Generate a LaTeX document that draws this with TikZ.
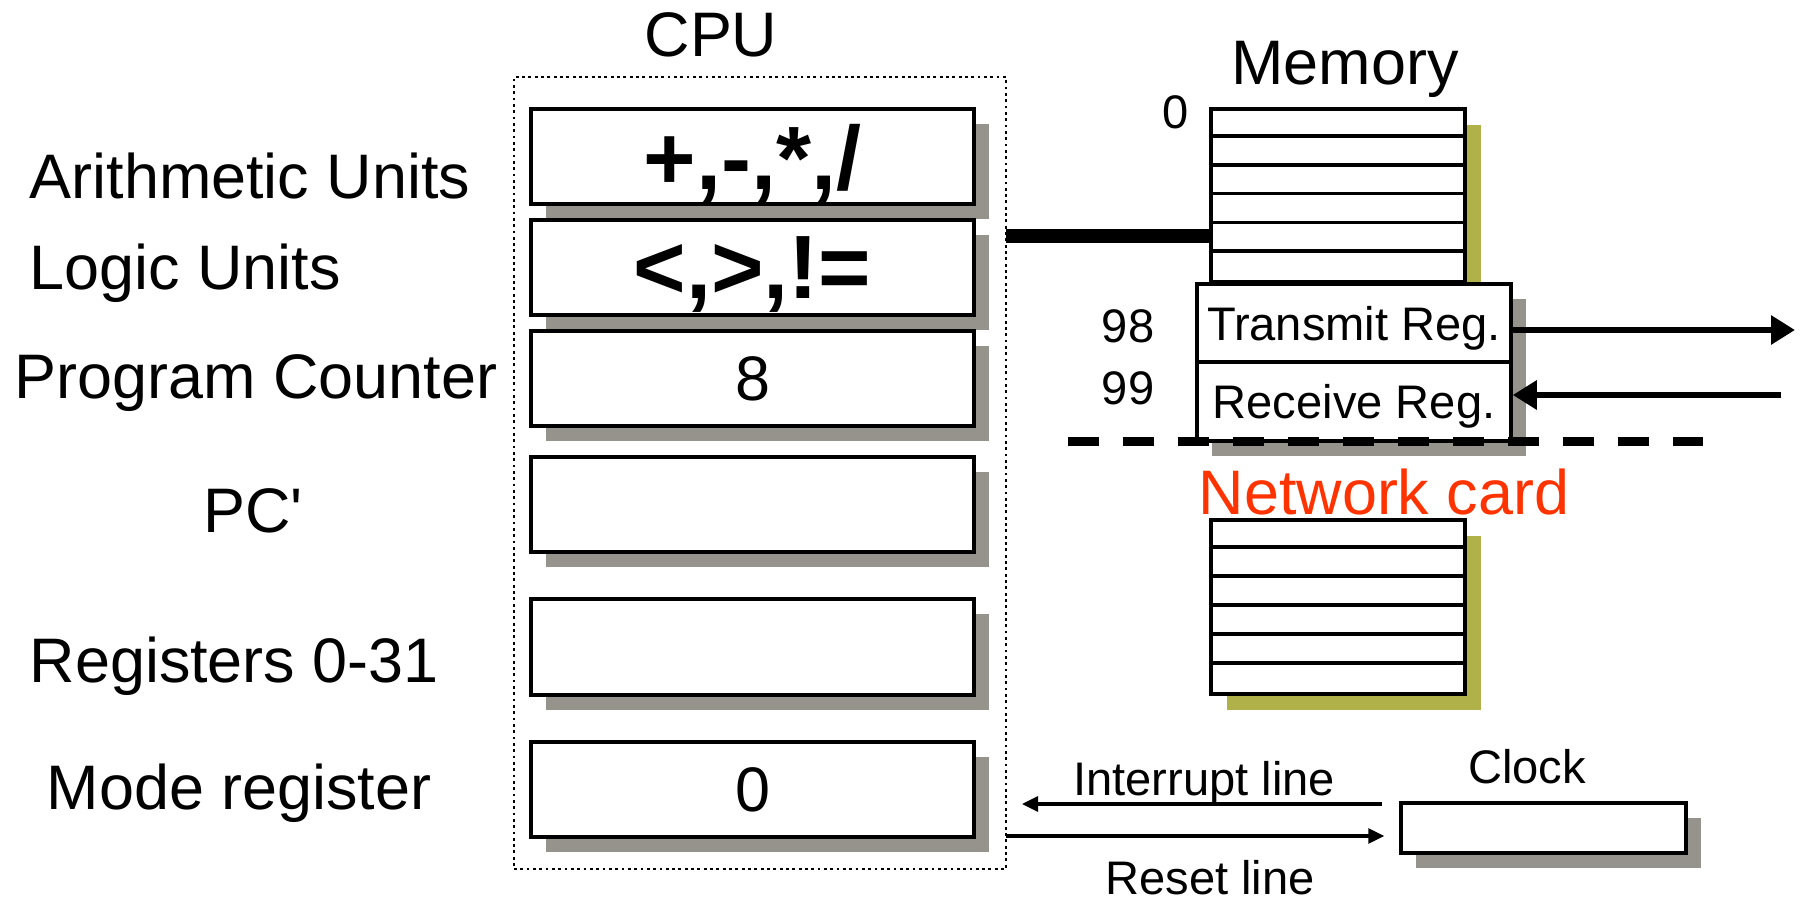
\documentclass[tikz,border=0pt]{standalone}
\usepackage{fontspec}
\setmainfont{Liberation Sans}
\usetikzlibrary{shadows}
\usetikzlibrary{arrows.meta}
\definecolor{shadowgray}{RGB}{150,146,140}
\definecolor{memolive}{RGB}{176,177,72}
\definecolor{nicred}{RGB}{255,51,0}

\begin{document}
\begin{tikzpicture}[inner sep=0pt,
  big/.style={font=\fontsize{17.9}{20}\selectfont},
  small/.style={font=\fontsize{13.4}{15}\selectfont},
  op/.style={font=\fontsize{25.6}{28}\selectfont\bfseries, text depth=0pt},
  reg/.style={draw, line width=1pt, fill=white, minimum width=4.43cm, minimum height=0.95cm,
    drop shadow={shadow xshift=0.15cm, shadow yshift=-0.15cm, fill=shadowgray, opacity=1}},
  stack/.style={draw, line width=1pt, fill=white, minimum width=2.54cm,
    drop shadow={shadow xshift=0.16cm, shadow yshift=-0.16cm, fill=memolive, opacity=1}},
  nicreg/.style={draw, line width=1pt, fill=white, minimum width=3.14cm, text depth=0pt,
    drop shadow={shadow xshift=0.15cm, shadow yshift=-0.15cm, fill=shadowgray, opacity=1}},
  sig/.style={line width=0.9pt, -{Triangle[length=0.16cm, width=0.15cm]}},
  wire/.style={line width=1.7pt, -{Triangle[length=0.24cm, width=0.28cm]}}]
\useasboundingbox (0,0) rectangle (18.04,-9.00);

% CPU
\node[draw, densely dotted, line width=0.8pt, minimum width=4.92cm, minimum height=7.92cm] (cpu) at (7.60,-4.73) {};
\node[big] (cputitle) at (7.11,-0.35) {CPU};

\node[reg, op] (alu) at (7.525,-1.565) {+,-,*,/};
\node[reg, op] (logic) at (7.525,-2.675) {<,>,!=};
\node[reg, big] (pc) at (7.525,-3.785) {8};
\node[reg] (pcp) at (7.525,-5.045) {};
\node[reg, minimum height=0.96cm] (regs) at (7.525,-6.47) {};
\node[reg, big] (mode) at (7.525,-7.895) {0};

\node[big, anchor=west] (alulbl) at (0.29,-1.76) {Arithmetic Units};
\node[big, anchor=west] (logiclbl) at (0.29,-2.73) {Logic Units};
\node[big, anchor=west] (pclbl) at (0.14,-3.83) {Program Counter};
\node[big] (pcplbl) at (2.53,-5.11) {PC\textquotesingle};
\node[big, anchor=west] (regslbl) at (0.29,-6.66) {Registers 0-31};
\node[big, anchor=west] (modelbl) at (0.46,-7.93) {Mode register};

% memory
\node[big] (memtitle) at (13.45,-0.69) {Memory};
\node[stack, minimum height=1.73cm] (mem) at (13.38,-1.955) {};
\foreach \i in {1,...,5}
  \draw[line width=1pt] ([yshift=-\i*0.288cm]mem.north west) -- ([yshift=-\i*0.288cm]mem.north east);
\node[small] (addr0) at (11.76,-1.12) {0};

\coordinate (bus) at (10.06,-2.36);
\draw[line width=4pt] (bus) -- (bus -| mem.west);

% network card
\node[nicreg, minimum height=0.78cm, small] (txreg) at (13.54,-3.23) {Transmit Reg.};
\node[nicreg, minimum height=0.79cm, small] (rxreg) at (13.54,-4.015) {Receive Reg.};
\node[small] (addr98) at (11.28,-3.26) {98};
\node[small] (addr99) at (11.28,-3.88) {99};

\coordinate (txout) at (17.95,-3.30);
\coordinate (rxin) at (17.81,-3.95);
\draw[wire] (txreg.east |- txout) -- (txout);
\draw[wire] (rxin) -- (rxin -| rxreg.east);

\draw[line width=0.09cm, dash pattern=on 0.31cm off 0.24cm] (10.68,-4.41) -- (17.03,-4.41);
\node[big, text=nicred] (niclbl) at (13.84,-4.92) {Network card};

\node[stack, minimum height=1.74cm] (nicmem) at (13.38,-6.07) {};
\foreach \i in {1,...,5}
  \draw[line width=1pt] ([yshift=-\i*0.29cm]nicmem.north west) -- ([yshift=-\i*0.29cm]nicmem.north east);

% clock
\node[draw, line width=1pt, fill=white, minimum width=2.85cm, minimum height=0.50cm,
  drop shadow={shadow xshift=0.15cm, shadow yshift=-0.15cm, fill=shadowgray, opacity=1}] (clock) at (15.435,-8.28) {};
\node[small] (clocklbl) at (15.27,-7.67) {Clock};

\coordinate (irqend) at (10.22,-8.04);
\coordinate (rststart) at (10.06,-8.36);
\draw[sig, shorten <=0.17cm] (clock.north west |- irqend) -- (irqend);
\draw[sig, shorten >=0.15cm] (rststart) -- (rststart -| clock.west);
\node[small] (irqlbl) at (12.04,-7.83) {Interrupt line};
\node[small] (rstlbl) at (12.10,-8.78) {Reset line};
\end{tikzpicture}
\end{document}
